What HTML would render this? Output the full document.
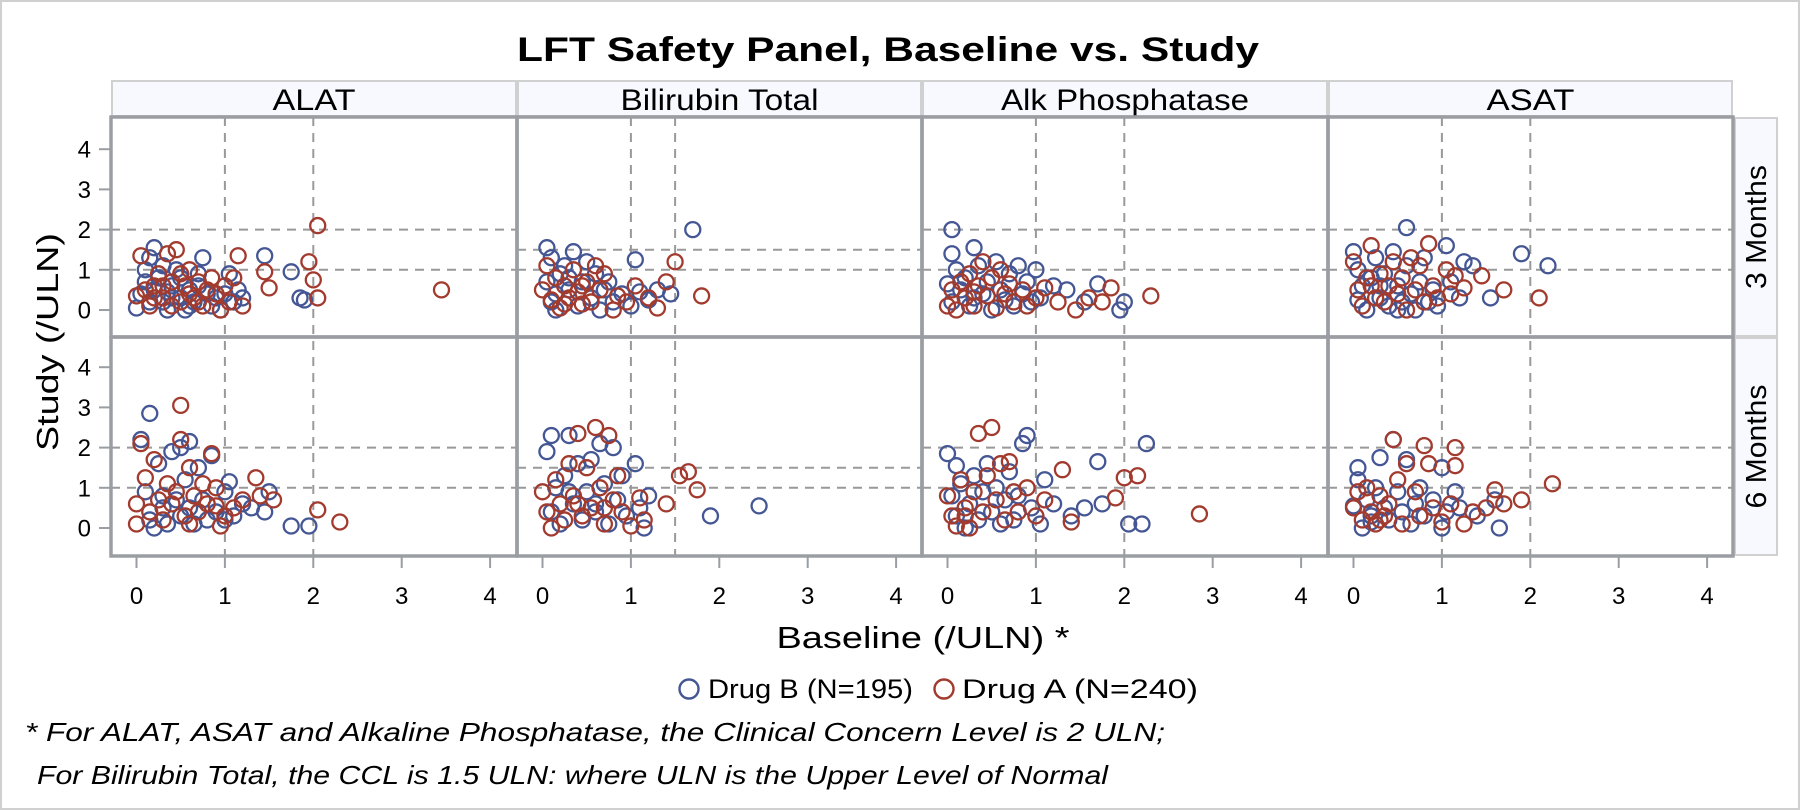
<!DOCTYPE html>
<html><head><meta charset="utf-8">
<style>
html,body{margin:0;padding:0;background:#fff;}
svg{display:block;font-family:"Liberation Sans",Arial,sans-serif;}
</style></head>
<body>
<svg id="chart" width="1800" height="810" viewBox="0 0 1800 810" xmlns="http://www.w3.org/2000/svg">
<rect x="1" y="1" width="1798" height="808" fill="#fff" stroke="#d0d0d0" stroke-width="2"/>
<text x="888" y="61" text-anchor="middle" font-size="34" font-weight="bold" textLength="742" lengthAdjust="spacingAndGlyphs">LFT Safety Panel, Baseline vs. Study</text>
<g id="panels"></g>
<text transform="translate(58,342) rotate(-90)" text-anchor="middle" font-size="31" textLength="218" lengthAdjust="spacingAndGlyphs">Study (/ULN)</text>
<text x="923" y="648" text-anchor="middle" font-size="31" textLength="293" lengthAdjust="spacingAndGlyphs">Baseline (/ULN) *</text>
<g>
<g>
<circle cx="689" cy="689" r="9.5" fill="none" stroke="#445694" stroke-width="2.4"/>
<text x="708" y="698" font-size="27" textLength="205" lengthAdjust="spacingAndGlyphs">Drug B (N=195)</text></g>
<g>
<circle cx="944" cy="689" r="9.5" fill="none" stroke="#A23A2E" stroke-width="2.4"/>
<text x="962" y="698" font-size="27" textLength="236" lengthAdjust="spacingAndGlyphs">Drug A (N=240)</text></g>
</g>
<text x="25" y="741" font-size="26" font-style="italic" textLength="1140" lengthAdjust="spacingAndGlyphs">* For ALAT, ASAT and Alkaline Phosphatase, the Clinical Concern Level is 2 ULN;</text>
<text x="37" y="784" font-size="26" font-style="italic" textLength="1071" lengthAdjust="spacingAndGlyphs">For Bilirubin Total, the CCL is 1.5 ULN: where ULN is the Upper Level of Normal</text>
</svg>
<script>
const tests = ["ALAT","Bilirubin Total","Alk Phosphatase","ASAT"];
const visits = ["3 Months","6 Months"];
const concernLevels = [2,1.5,2,2];
const xTickLabels = [0,1,2,3,4];
const yTickLabels = [0,1,2,3,4];
const drugB_3m = [
[[0,0.05],[0.05,0.4],[0.1,0.7],[0.1,1.0],[0.15,1.3],[0.2,1.55],[0.2,0.5],[0.3,1.1],[0.3,0.2],[0.35,0.0],[0.4,0.6],[0.45,1.0],[0.5,0.3],[0.5,0.8],[0.55,0.0],[0.6,0.5],[0.65,0.2],[0.7,0.9],[0.75,1.3],[0.8,0.4],[0.85,0.1],[0.9,0.3],[0.95,0.0],[1.0,0.4],[1.05,0.9],[1.1,0.2],[1.15,0.5],[1.45,1.35],[1.75,0.95],[1.85,0.3],[1.9,0.25],[0.25,0.8],[0.4,0.3],[0.6,0.1],[0.35,0.45],[0.7,0.6],[1.2,0.3],[0.15,0.2]],
[[0.05,1.55],[0.1,1.3],[0.05,0.7],[0.1,0.2],[0.15,0.0],[0.2,0.9],[0.25,1.1],[0.3,0.5],[0.35,1.45],[0.4,0.1],[0.45,0.7],[0.5,1.2],[0.55,0.3],[0.6,0.9],[0.65,0.0],[0.7,0.5],[0.8,0.2],[0.9,0.4],[1.0,0.1],[1.05,1.25],[1.1,0.45],[1.2,0.25],[1.3,0.5],[1.45,0.4],[1.7,2.0],[0.3,0.8],[0.15,0.4],[0.75,0.7]],
[[0.05,2.0],[0.05,1.4],[0.0,0.65],[0.05,0.2],[0.1,1.0],[0.15,0.5],[0.2,0.8],[0.25,0.1],[0.3,1.55],[0.35,1.1],[0.4,0.4],[0.45,0.7],[0.5,0.0],[0.55,1.2],[0.6,0.5],[0.65,0.25],[0.7,0.9],[0.75,0.1],[0.8,1.1],[0.85,0.4],[0.9,0.7],[0.95,0.2],[1.0,1.0],[1.05,0.3],[1.2,0.6],[1.35,0.5],[1.55,0.2],[1.7,0.65],[1.95,0.0],[2.0,0.2],[0.3,0.3]],
[[0.0,1.45],[0.05,1.0],[0.05,0.25],[0.1,0.6],[0.15,0.0],[0.2,0.8],[0.25,1.3],[0.3,0.3],[0.35,0.9],[0.4,0.1],[0.45,1.45],[0.5,0.6],[0.55,0.2],[0.6,1.1],[0.6,2.05],[0.65,0.4],[0.7,0.0],[0.75,0.7],[0.8,1.3],[0.85,0.2],[0.9,0.5],[0.95,0.1],[1.05,1.6],[1.1,0.7],[1.2,0.3],[1.25,1.2],[1.35,1.1],[1.55,0.3],[1.9,1.4],[2.2,1.1],[0.3,0.6],[0.5,0.0]]
];
const drugA_3m = [
[[0,0.35],[0.05,1.35],[0.1,0.5],[0.15,0.1],[0.2,0.6],[0.25,0.9],[0.3,0.3],[0.35,1.4],[0.4,0.7],[0.45,1.5],[0.5,0.2],[0.55,0.6],[0.6,1.0],[0.65,0.3],[0.7,0.7],[0.75,0.1],[0.8,0.5],[0.85,0.8],[0.9,0.4],[0.95,0.0],[1.0,0.6],[1.05,0.2],[1.1,0.8],[1.15,1.35],[1.2,0.1],[1.45,0.95],[1.5,0.55],[1.95,1.2],[2.0,0.75],[2.05,2.1],[2.05,0.3],[3.45,0.5],[0.3,0.6],[0.5,0.9],[0.7,0.2],[0.2,0.3],[0.4,0.1],[0.6,0.4]],
[[0.0,0.5],[0.05,1.1],[0.1,0.25],[0.15,0.8],[0.2,0.05],[0.25,0.6],[0.3,0.3],[0.35,1.0],[0.4,0.45],[0.45,0.15],[0.5,0.7],[0.55,0.2],[0.6,1.1],[0.65,0.5],[0.7,0.9],[0.8,0.0],[0.85,0.35],[0.95,0.2],[1.05,0.6],[1.2,0.3],[1.3,0.05],[1.4,0.7],[1.5,1.2],[1.8,0.35],[0.25,0.15],[0.45,0.6]],
[[0.0,0.1],[0.05,0.5],[0.1,0.0],[0.15,0.7],[0.2,0.3],[0.25,0.9],[0.3,0.1],[0.35,0.6],[0.4,1.2],[0.45,0.35],[0.5,0.8],[0.55,0.05],[0.6,1.0],[0.65,0.4],[0.7,0.65],[0.75,0.2],[0.85,0.5],[0.9,0.1],[1.0,0.3],[1.1,0.55],[1.25,0.2],[1.45,0.0],[1.6,0.3],[1.75,0.2],[1.85,0.55],[2.3,0.35],[0.3,0.45]],
[[0.0,1.2],[0.05,0.5],[0.1,0.1],[0.15,0.8],[0.2,1.6],[0.25,0.3],[0.3,0.9],[0.35,0.2],[0.4,0.6],[0.45,1.2],[0.5,0.4],[0.55,0.8],[0.6,0.0],[0.65,1.3],[0.7,0.5],[0.75,1.1],[0.8,0.2],[0.85,1.65],[0.9,0.6],[0.95,0.3],[1.05,1.0],[1.1,0.4],[1.15,0.85],[1.25,0.55],[1.45,0.85],[1.7,0.5],[2.1,0.3],[0.2,0.6]]
];
const drugB_6m = [
[[0.05,2.2],[0.15,2.85],[0.1,0.9],[0.15,0.2],[0.2,0.0],[0.25,1.6],[0.3,0.5],[0.35,0.1],[0.4,1.9],[0.45,0.7],[0.5,2.0],[0.5,0.3],[0.55,1.2],[0.6,2.15],[0.6,0.5],[0.7,1.5],[0.75,0.7],[0.8,0.2],[0.85,1.8],[0.9,0.4],[1.0,0.9],[1.05,1.15],[1.1,0.3],[1.2,0.6],[1.3,0.5],[1.45,0.4],[1.5,0.9],[1.75,0.05],[1.95,0.05],[0.3,0.8],[0.65,0.1],[1.0,0.2]],
[[0.1,2.3],[0.05,1.9],[0.1,0.4],[0.15,1.0],[0.2,0.1],[0.25,1.3],[0.3,2.3],[0.35,0.6],[0.4,1.6],[0.45,0.2],[0.5,0.9],[0.55,1.7],[0.6,0.4],[0.65,2.1],[0.7,1.1],[0.75,0.1],[0.8,2.0],[0.85,0.7],[0.9,1.3],[0.95,0.3],[1.05,1.6],[1.1,0.5],[1.15,0.0],[1.2,0.8],[1.9,0.3],[2.45,0.55],[0.3,0.9],[0.6,0.6]],
[[0.0,1.85],[0.1,1.55],[0.05,0.8],[0.1,0.3],[0.15,1.1],[0.2,0.0],[0.25,0.6],[0.3,1.3],[0.35,0.2],[0.4,0.9],[0.45,1.6],[0.5,0.4],[0.55,1.0],[0.6,0.1],[0.65,0.7],[0.7,1.4],[0.75,0.2],[0.8,0.8],[0.85,2.1],[0.9,2.3],[0.95,0.5],[1.05,0.1],[1.1,1.2],[1.2,0.6],[1.4,0.3],[1.55,0.5],[1.7,1.65],[1.75,0.6],[2.05,0.1],[2.2,0.1],[2.25,2.1]],
[[0.0,0.55],[0.05,1.5],[0.05,1.2],[0.1,0.0],[0.15,0.7],[0.2,0.3],[0.25,1.0],[0.3,1.75],[0.35,0.5],[0.4,0.2],[0.45,2.2],[0.5,0.9],[0.55,0.4],[0.6,1.7],[0.65,0.1],[0.7,0.6],[0.75,1.0],[0.8,0.3],[0.9,0.7],[1.0,1.5],[1.0,0.0],[1.05,0.4],[1.15,0.9],[1.2,0.5],[1.4,0.3],[1.6,0.7],[1.65,0.0],[0.2,0.15]]
];
const drugA_6m = [
[[0,0.1],[0.0,0.6],[0.05,2.1],[0.1,1.25],[0.15,0.4],[0.2,1.7],[0.25,0.7],[0.3,0.2],[0.35,1.1],[0.4,0.6],[0.45,0.9],[0.5,3.05],[0.5,2.2],[0.55,0.3],[0.6,1.5],[0.65,0.8],[0.7,0.4],[0.75,1.1],[0.8,0.6],[0.85,1.85],[0.9,1.0],[0.95,0.05],[1.0,0.3],[1.1,0.5],[1.2,0.7],[1.35,1.25],[1.4,0.8],[1.55,0.7],[2.05,0.45],[2.3,0.15],[0.6,0.1],[0.9,0.55]],
[[0.0,0.9],[0.05,0.4],[0.1,0.0],[0.15,1.2],[0.2,0.6],[0.25,0.2],[0.3,1.6],[0.35,0.8],[0.4,2.35],[0.45,0.3],[0.5,1.5],[0.55,0.5],[0.6,2.5],[0.65,1.0],[0.7,0.1],[0.75,2.3],[0.8,0.7],[0.85,1.3],[0.9,0.4],[1.0,0.05],[1.1,0.75],[1.15,0.2],[1.4,0.6],[1.55,1.3],[1.65,1.4],[1.75,0.95],[0.4,0.6],[0.7,0.5]],
[[0.0,0.8],[0.05,0.3],[0.1,0.05],[0.15,1.2],[0.2,0.5],[0.25,0.0],[0.3,0.9],[0.35,2.35],[0.4,0.4],[0.45,1.3],[0.5,2.5],[0.55,0.7],[0.6,1.6],[0.65,0.2],[0.7,1.65],[0.75,0.9],[0.8,0.4],[0.9,1.0],[1.0,0.3],[1.1,0.7],[1.3,1.45],[1.4,0.15],[1.9,0.75],[2.0,1.25],[2.15,1.3],[2.85,0.35],[0.2,0.3]],
[[0.0,0.5],[0.05,0.9],[0.1,0.2],[0.15,1.0],[0.2,0.4],[0.25,0.1],[0.3,0.8],[0.35,0.3],[0.4,0.6],[0.45,2.2],[0.5,1.2],[0.55,0.1],[0.6,1.6],[0.7,0.9],[0.75,0.3],[0.8,2.05],[0.85,1.6],[0.9,0.5],[1.0,0.15],[1.1,0.6],[1.15,2.0],[1.15,1.55],[1.25,0.1],[1.35,0.4],[1.5,0.5],[1.6,0.95],[1.7,0.6],[1.9,0.7],[2.25,1.1],[0.3,0.2]]
];

const NS="http://www.w3.org/2000/svg";
const g=document.getElementById('panels');
const colL=[111,517,922,1328], colR=1733;
const rowT=[117,337], rowB=556, hdrT=80;
const unitX=88.4, unitY=40.2, x0off=25.5, y0off=[193,191];
const hdrLen=[83,198,248,88];
function el(t,a){const e=document.createElementNS(NS,t);for(const k in a)e.setAttribute(k,a[k]);return e;}
function xs(c,v){return colL[c]+x0off+v*unitX;}
function ys(r,v){return rowT[r]+y0off[r]-v*unitY;}
const BLUE="#445694", RED="#A23A2E", GRID="#999", FRAME="#9a9ea3";

tests.forEach((t,c)=>{
  const w=(c<3?colL[c+1]:colR)-colL[c];
  const h=el('rect',{x:colL[c]+1,y:hdrT+1,width:w-2,height:rowT[0]-hdrT-2,fill:'#f8f9fe',stroke:'#d0d0d0','stroke-width':2});
  
  
  g.appendChild(h);
  const ht=el('text',{x:colL[c]+w/2,y:hdrT+30,'text-anchor':'middle','font-size':30,textLength:hdrLen[c],lengthAdjust:'spacingAndGlyphs'});
  ht.textContent=t;
  
  
  g.appendChild(ht);
});
visits.forEach((v,r)=>{
  const bot=r===0?rowT[1]:rowB;
  const s=el('rect',{x:colR+2,y:rowT[r]+1,width:42,height:bot-rowT[r]-2,fill:'#f8f9fe',stroke:'#d0d0d0','stroke-width':2});
  
  
  g.appendChild(s);
  const cy=(rowT[r]+bot)/2;
  const st=el('text',{transform:`translate(${colR+33},${cy}) rotate(-90)`,'text-anchor':'middle','font-size':29,textLength:124,lengthAdjust:'spacingAndGlyphs'});
  st.textContent=v;
  
  
  g.appendChild(st);
  yTickLabels.forEach(tv=>{
    const y=ys(r,tv);
    const tk=el('line',{x1:99,x2:110,y1:y,y2:y,stroke:FRAME,'stroke-width':2});
    
    
    g.appendChild(tk);
    const tl=el('text',{x:91,y:y+8.5,'text-anchor':'end','font-size':24});
    tl.textContent=tv;
    
    
    g.appendChild(tl);
  });
});
const dataB=[drugB_3m,drugB_6m], dataA=[drugA_3m,drugA_6m];
tests.forEach((t,c)=>{
  const right=c<3?colL[c+1]:colR;
  const cl=concernLevels[c];
  [1,cl].forEach(v=>{
    const x=xs(c,v);
    const ln=el('line',{x1:x,x2:x,y1:rowT[0],y2:rowB,stroke:GRID,'stroke-width':2,'stroke-dasharray':'9,7'});
    
    
    g.appendChild(ln);
  });
  visits.forEach((vv,r)=>{
    [1,cl].forEach(v=>{
      const y=ys(r,v);
      const ln=el('line',{x1:colL[c],x2:right,y1:y,y2:y,stroke:GRID,'stroke-width':2,'stroke-dasharray':'9,7'});
      
      
      g.appendChild(ln);
    });
    [[dataB[r][c],BLUE,'drug-b'],[dataA[r][c],RED,'drug-a']].forEach(([pts,col,nm])=>{
      pts.forEach(p=>{
        const ci=el('circle',{cx:xs(c,p[0]),cy:ys(r,p[1]),r:7.5,fill:'none',stroke:col,'stroke-width':2.3});
        
        
        g.appendChild(ci);
      });
    });
  });
  xTickLabels.forEach(tv=>{
    const x=xs(c,tv);
    const tk=el('line',{x1:x,x2:x,y1:rowB,y2:rowB+12,stroke:FRAME,'stroke-width':2});
    
    
    g.appendChild(tk);
    const tl=el('text',{x:x,y:604,'text-anchor':'middle','font-size':24});
    tl.textContent=tv;
    
    
    g.appendChild(tl);
  });
});
for(let r=0;r<2;r++)for(let c=0;c<4;c++){
  const right=c<3?colL[c+1]:colR, bot=r===0?rowT[1]:rowB;
  const f=el('rect',{x:colL[c],y:rowT[r],width:right-colL[c],height:bot-rowT[r],fill:'none',stroke:FRAME,'stroke-width':3.5});
  
  
  g.appendChild(f);
}
</script>
</body></html>
